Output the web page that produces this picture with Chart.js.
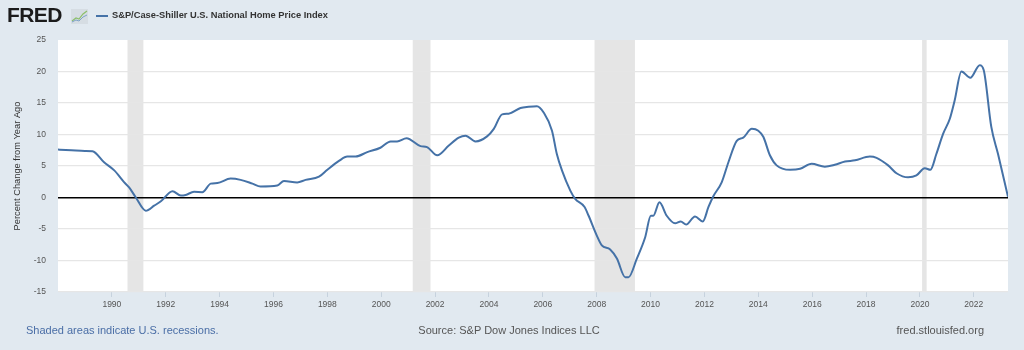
<!DOCTYPE html>
<html>
<head>
<meta charset="utf-8">
<script src="https://cdn.jsdelivr.net/npm/chart.js@4/dist/chart.umd.min.js"></script>
<style>
  html, body { margin: 0; padding: 0; }
  body {
    width: 1024px; height: 350px; background: #e1e9f0;
    position: relative; overflow: hidden;
    font-family: "Liberation Sans", Arial, sans-serif;
  }
  #wrap { position: absolute; left: 0; top: 0; width: 1024px; height: 350px; }
  .logo { position: absolute; left: 7px; top: 3px; font-weight: bold; font-size: 21px; color: #1b1b1b; letter-spacing: -0.6px; }
  .icon { position: absolute; left: 71px; top: 9px; }
  .legline { position: absolute; left: 96px; top: 15px; width: 12px; height: 2px; background: #4572a7; }
  .legtext { position: absolute; left: 112px; top: 10px; font-size: 9.3px; font-weight: bold; color: #333; }
  .foot { position: absolute; top: 324px; font-size: 11px; }
  #recnote { left: 26px; color: #4a6ea6; }
  #source { left: 0; width: 1018px; text-align: center; color: #555; }
  #site { right: 40px; color: #555; }
</style>
</head>
<body>
<div id="wrap"><canvas id="chart" width="1024" height="350"></canvas></div>
<div class="logo">FRED</div>
<svg class="icon" width="17" height="15" viewBox="0 0 17 15">
  <rect x="0" y="0" width="17" height="15" fill="#d6dde3"/>
  <polyline points="1,12 5,9 8,10 12,5 16,2" fill="none" stroke="#8cbf6a" stroke-width="1.2"/>
  <polyline points="1,13 5,11 8,12 12,8 16,6" fill="none" stroke="#7ea2c8" stroke-width="1"/>
</svg>
<div class="legline"></div>
<div class="legtext">S&amp;P/Case-Shiller U.S. National Home Price Index</div>
<div class="foot" id="recnote">Shaded areas indicate U.S. recessions.</div>
<div class="foot" id="source">Source: S&amp;P Dow Jones Indices LLC</div>
<div class="foot" id="site">fred.stlouisfed.org</div>

<script>
/* ================= DATA ================= */

// decimal years and percent change from year ago
const dates = [
  1988.0, 1988.5, 1989.0, 1989.28, 1989.71, 1990.09, 1990.46, 1990.64, 1990.89,
  1991.26, 1991.57, 1991.82, 1992.25, 1992.56, 1992.74, 1993.05, 1993.36, 1993.67,
  1993.92, 1994.41, 1994.78, 1995.22, 1995.52, 1996.14, 1996.39, 1996.88, 1997.19,
  1997.69, 1998.0, 1998.43, 1998.74, 1999.05, 1999.48, 1999.97, 2000.35, 2000.59,
  2000.94, 2001.46, 2001.7, 2002.08, 2002.51, 2002.88, 2003.13, 2003.5, 2003.93,
  2004.18, 2004.49, 2004.73, 2005.17, 2005.47, 2005.78, 2006.03, 2006.34, 2006.52,
  2006.71, 2007.02, 2007.2, 2007.55, 2007.7, 2008.0, 2008.19, 2008.5, 2008.75,
  2009.06, 2009.18, 2009.49, 2009.8, 2010.01, 2010.1, 2010.33, 2010.6, 2010.91,
  2011.12, 2011.32, 2011.65, 2011.94, 2012.15, 2012.33, 2012.64, 2012.89, 2013.2,
  2013.44, 2013.76, 2014.0, 2014.19, 2014.43, 2014.68, 2015.18, 2015.55, 2015.98,
  2016.47, 2016.84, 2017.22, 2017.59, 2018.14, 2018.39, 2018.82, 2019.13, 2019.56,
  2019.87, 2020.18, 2020.39, 2020.61, 2020.86, 2021.11, 2021.29, 2021.54, 2021.87,
  2022.22, 2022.37, 2022.65, 2022.9, 2023.27
];

const values = [
  7.6, 7.5, 7.4, 7.35, 5.6, 4.3, 2.4, 1.6, 0.0,
  -2.1, -1.3, -0.6, 1.0, 0.3, 0.4, 0.9, 0.85, 2.2,
  2.3, 3.0, 2.8, 2.2, 1.75, 1.9, 2.6, 2.4, 2.8,
  3.3, 4.4, 5.8, 6.5, 6.5, 7.2, 7.9, 8.9, 8.9,
  9.4, 8.15, 8.0, 6.7, 8.25, 9.5, 9.8, 8.9, 9.7,
  10.9, 13.2, 13.3, 14.2, 14.4, 14.5, 13.5, 10.6, 6.9,
  4.3, 1.1, -0.2, -1.5, -2.9, -6.0, -7.6, -8.25, -9.7,
  -12.65, -12.65, -9.7, -6.3, -2.9, -2.9, -0.75, -2.9, -4.1,
  -3.8, -4.3, -3.0, -3.8, -1.5, 0.2, 2.4, 5.6, 9.0,
  9.5, 10.9, 10.6, 9.6, 6.7, 5.1, 4.4, 4.55, 5.35,
  4.9, 5.2, 5.7, 5.9, 6.5, 6.3, 5.1, 3.85, 3.2,
  3.5, 4.65, 4.4, 6.9, 10.1, 12.5, 15.4, 20.0, 19.0,
  21.0, 20.2, 11.2, 6.9, 0.1
];

const recessionStart = [1990.58, 2001.17, 2007.92, 2020.08];
const recessionEnd   = [1991.17, 2001.83, 2009.42, 2020.25];

const xMin = 1988.0;
const xMax = 2023.27;
const yTicks = [-15, -10, -5, 0, 5, 10, 15, 20, 25];

/* ================= PLUGINS ================= */

// white plot area plus grey recession bands, under the grid
const backdrop = {
  id: "backdrop",
  beforeDraw(chart) {
    const { ctx, chartArea: a, scales: { x } } = chart;
    ctx.save();
    ctx.fillStyle = "#ffffff";
    ctx.fillRect(a.left, a.top, a.right - a.left, a.bottom - a.top);
    ctx.fillStyle = "#e5e5e5";
    recessionStart.forEach((s, i) => {
      const x0 = x.getPixelForValue(s);
      const x1 = x.getPixelForValue(recessionEnd[i]);
      ctx.fillRect(x0, a.top, x1 - x0, a.bottom - a.top);
    });
    ctx.restore();
  }
};

/* ================= CHART ================= */

const font = "'Liberation Sans', Arial, sans-serif";

new Chart(document.getElementById("chart"), {
  type: "line",
  data: {
    datasets: [{
      data: dates.map((d, i) => ({ x: d, y: values[i] })),
      borderColor: "#4572a7",
      borderWidth: 2,
      pointRadius: 0,
      cubicInterpolationMode: "monotone",
      fill: false
    }]
  },
  options: {
    responsive: false,
    animation: false,
    layout: { padding: { top: 40, right: 16, left: 0, bottom: 0 } },
    plugins: {
      legend: { display: false },
      tooltip: { enabled: false }
    },
    scales: {
      x: {
        type: "linear",
        min: xMin,
        max: xMax,
        afterFit(scale) { scale.height = 58; },
        afterBuildTicks(scale) {
          const t = [];
          for (let y = 1990; y <= 2022; y += 2) t.push({ value: y });
          scale.ticks = t;
        },
        ticks: {
          callback: v => String(v),
          color: "#555",
          font: { family: font, size: 8.5 },
          padding: 3,
          maxRotation: 0,
          autoSkip: false
        },
        grid: {
          drawOnChartArea: false,
          drawTicks: true,
          tickLength: 5,
          color: "#c6d2de"
        },
        border: { display: false }
      },
      y: {
        min: -15,
        max: 25,
        afterFit(scale) { scale.width = 58; },
        afterBuildTicks(scale) {
          scale.ticks = yTicks.map(v => ({ value: v }));
        },
        ticks: {
          color: "#555",
          font: { family: font, size: 8.5 },
          padding: 12
        },
        grid: {
          drawTicks: false,
          color: c => c.tick.value === 0 ? "#000000" : (c.tick.value === 25 ? "rgba(0,0,0,0)" : "#e6e6e6"),
          lineWidth: c => c.tick.value === 0 ? 1.5 : 1.2
        },
        border: { display: false },
        title: {
          display: true,
          text: "Percent Change from Year Ago",
          color: "#333",
          font: { family: font, size: 9.3 },
          padding: { top: 12, bottom: 0 }
        }
      }
    }
  },
  plugins: [backdrop]
});
</script>
</body>
</html>
